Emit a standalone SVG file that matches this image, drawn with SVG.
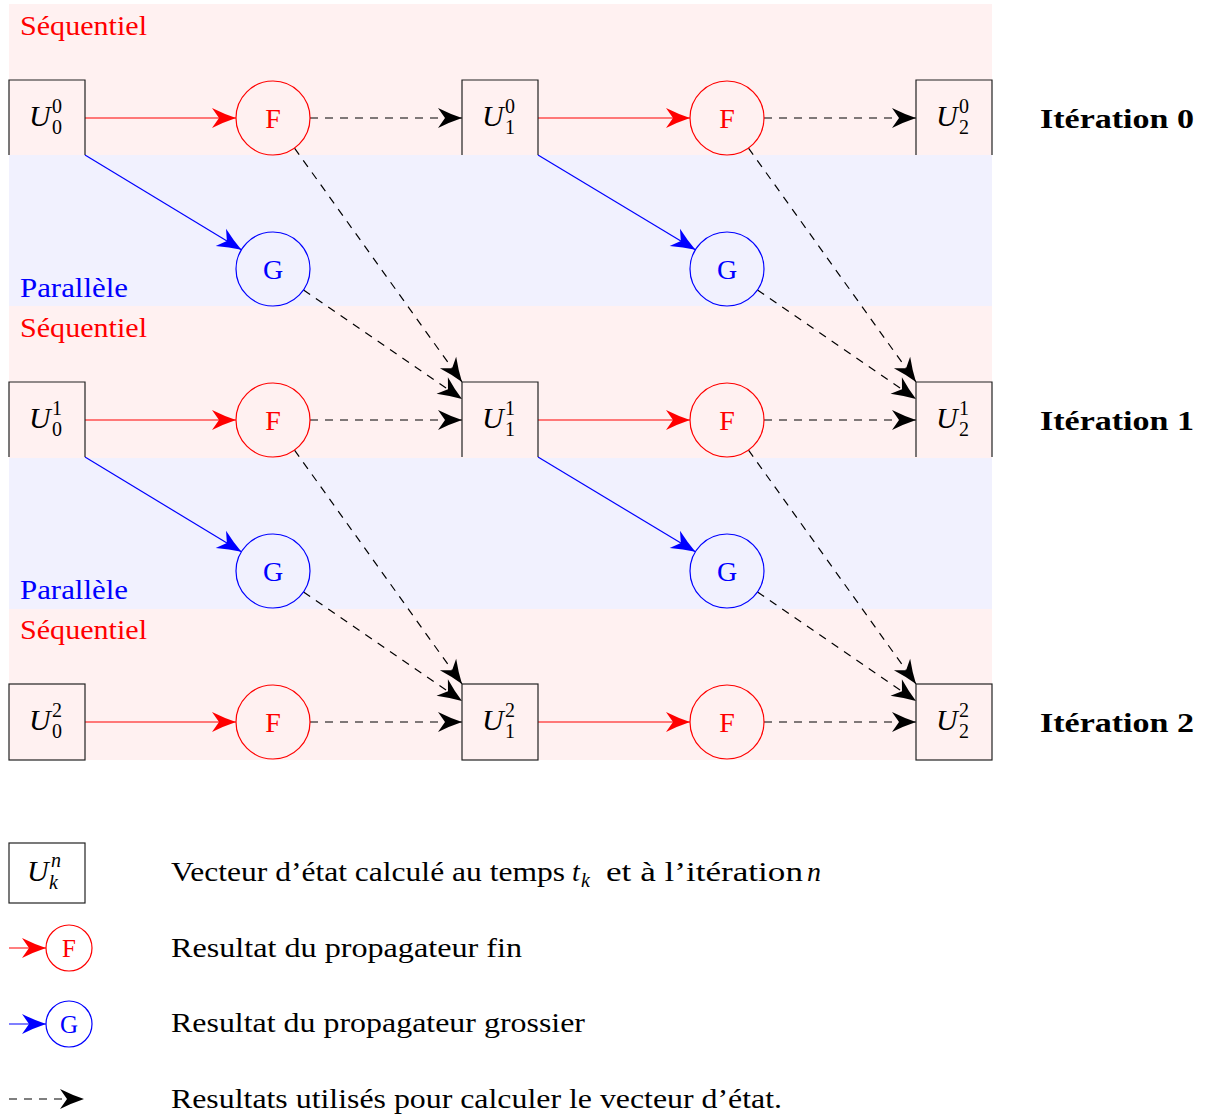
<svg xmlns="http://www.w3.org/2000/svg" width="1209" height="1116" viewBox="0 0 1209 1116">
<style>
text{font-family:"Liberation Serif","DejaVu Serif",serif;}
.band-s{fill:#fff1f1;}
.band-p{fill:#f1f1fe;}
.lbl-s{fill:#ff0000;font-size:28px;}
.lbl-p{fill:#0000ff;font-size:28px;}
.iter{font-size:28px;font-weight:bold;fill:#000;}
.box{fill:none;stroke:#222;stroke-width:1.2;}
.cf{fill:none;stroke:#ff0000;stroke-width:1.2;}
.cg{fill:none;stroke:#0000ff;stroke-width:1.2;}
.tf{fill:#ff0000;font-size:28px;text-anchor:middle;}
.tg{fill:#0000ff;font-size:28px;text-anchor:middle;}
.U{font-size:30px;font-style:italic;fill:#000;}
.sc{font-size:20px;fill:#000;}
.red{stroke:#ff0000;stroke-width:1.2;fill:none;marker-end:url(#ar);}
.blue{stroke:#0000ff;stroke-width:1.2;fill:none;marker-end:url(#ab);}
.dash{stroke:#000;stroke-width:1.2;fill:none;stroke-dasharray:8 7;marker-end:url(#ak);}
.leg{font-size:28px;fill:#000;}
</style>
<defs>
<marker id="ar" markerUnits="userSpaceOnUse" viewBox="-26 -11 28 22" refX="0" refY="0" markerWidth="28" markerHeight="22" orient="auto"><path d="M0,0 Q-12,-4 -24,-10 L-17,0 L-24,10 Q-12,4 0,0 Z" fill="#ff0000"/></marker>
<marker id="ab" markerUnits="userSpaceOnUse" viewBox="-26 -11 28 22" refX="0" refY="0" markerWidth="28" markerHeight="22" orient="auto"><path d="M0,0 Q-12,-4 -24,-10 L-17,0 L-24,10 Q-12,4 0,0 Z" fill="#0000ff"/></marker>
<marker id="ak" markerUnits="userSpaceOnUse" viewBox="-26 -11 28 22" refX="0" refY="0" markerWidth="28" markerHeight="22" orient="auto"><path d="M0,0 Q-12,-4 -24,-10 L-17,0 L-24,10 Q-12,4 0,0 Z" fill="#000"/></marker>
</defs>

<g id="bands">
<rect class="band-s" x="9" y="4" width="983" height="151"/>
<rect class="band-p" x="9" y="155" width="983" height="151"/>
<rect class="band-s" x="9" y="306" width="983" height="152"/>
<rect class="band-p" x="9" y="458" width="983" height="151"/>
<rect class="band-s" x="9" y="609" width="983" height="151"/>
</g>

<g id="band-labels">
<text class="lbl-s" x="20" y="35" textLength="127" lengthAdjust="spacingAndGlyphs">Séquentiel</text>
<text class="lbl-p" x="20" y="297" textLength="108" lengthAdjust="spacingAndGlyphs">Parallèle</text>
<text class="lbl-s" x="20" y="337" textLength="127" lengthAdjust="spacingAndGlyphs">Séquentiel</text>
<text class="lbl-p" x="20" y="599" textLength="108" lengthAdjust="spacingAndGlyphs">Parallèle</text>
<text class="lbl-s" x="20" y="639" textLength="127" lengthAdjust="spacingAndGlyphs">Séquentiel</text>
</g>

<g id="connectors">
<path class="red" d="M85,118 L236,118"/>
<path class="dash" d="M310,118 L462,118"/>
<path class="red" d="M538,118 L690,118"/>
<path class="dash" d="M764,118 L916,118"/>
<path class="blue" d="M85,155 L241.4,249.8"/>
<path class="blue" d="M538,155 L695.4,249.8"/>
<path class="dash" d="M294.5,148.1 L462,382"/>
<path class="dash" d="M303.5,290 L462,399"/>
<path class="dash" d="M748.5,148.1 L916,382"/>
<path class="dash" d="M757.5,290 L916,399"/>
<path class="red" d="M85,420 L236,420"/>
<path class="dash" d="M310,420 L462,420"/>
<path class="red" d="M538,420 L690,420"/>
<path class="dash" d="M764,420 L916,420"/>
<path class="blue" d="M85,457 L241.4,551.8"/>
<path class="blue" d="M538,457 L695.4,551.8"/>
<path class="dash" d="M294.5,450.1 L462,684"/>
<path class="dash" d="M303.5,592 L462,701"/>
<path class="dash" d="M748.5,450.1 L916,684"/>
<path class="dash" d="M757.5,592 L916,701"/>
<path class="red" d="M85,722 L236,722"/>
<path class="dash" d="M310,722 L462,722"/>
<path class="red" d="M538,722 L690,722"/>
<path class="dash" d="M764,722 L916,722"/>
</g>

<g id="U00"><path class="box" d="M9,155 L9,80 L85,80 L85,155"/><text class="U" x="29" y="126">U</text><text class="sc" x="52" y="113">0</text><text class="sc" x="52" y="134">0</text></g>
<g id="U10"><path class="box" d="M462,155 L462,80 L538,80 L538,155"/><text class="U" x="482" y="126">U</text><text class="sc" x="505" y="113">0</text><text class="sc" x="505" y="134">1</text></g>
<g id="U20"><path class="box" d="M916,155 L916,80 L992,80 L992,155"/><text class="U" x="936" y="126">U</text><text class="sc" x="959" y="113">0</text><text class="sc" x="959" y="134">2</text></g>

<g id="U01"><path class="box" d="M9,457 L9,382 L85,382 L85,457"/><text class="U" x="29" y="428">U</text><text class="sc" x="52" y="415">1</text><text class="sc" x="52" y="436">0</text></g>
<g id="U11"><path class="box" d="M462,457 L462,382 L538,382 L538,457"/><text class="U" x="482" y="428">U</text><text class="sc" x="505" y="415">1</text><text class="sc" x="505" y="436">1</text></g>
<g id="U21"><path class="box" d="M916,457 L916,382 L992,382 L992,457"/><text class="U" x="936" y="428">U</text><text class="sc" x="959" y="415">1</text><text class="sc" x="959" y="436">2</text></g>

<g id="U02"><rect class="box" x="9" y="684" width="76" height="76"/><text class="U" x="29" y="730">U</text><text class="sc" x="52" y="717">2</text><text class="sc" x="52" y="738">0</text></g>
<g id="U12"><rect class="box" x="462" y="684" width="76" height="76"/><text class="U" x="482" y="730">U</text><text class="sc" x="505" y="717">2</text><text class="sc" x="505" y="738">1</text></g>
<g id="U22"><rect class="box" x="916" y="684" width="76" height="76"/><text class="U" x="936" y="730">U</text><text class="sc" x="959" y="717">2</text><text class="sc" x="959" y="738">2</text></g>

<g id="F00"><circle class="cf" cx="273" cy="118" r="37"/><text class="tf" x="273" y="128">F</text></g>
<g id="F10"><circle class="cf" cx="727" cy="118" r="37"/><text class="tf" x="727" y="128">F</text></g>
<g id="F01"><circle class="cf" cx="273" cy="420" r="37"/><text class="tf" x="273" y="430">F</text></g>
<g id="F11"><circle class="cf" cx="727" cy="420" r="37"/><text class="tf" x="727" y="430">F</text></g>
<g id="F02"><circle class="cf" cx="273" cy="722" r="37"/><text class="tf" x="273" y="732">F</text></g>
<g id="F12"><circle class="cf" cx="727" cy="722" r="37"/><text class="tf" x="727" y="732">F</text></g>

<g id="G00"><circle class="cg" cx="273" cy="269" r="37"/><text class="tg" x="273" y="279">G</text></g>
<g id="G10"><circle class="cg" cx="727" cy="269" r="37"/><text class="tg" x="727" y="279">G</text></g>
<g id="G01"><circle class="cg" cx="273" cy="571" r="37"/><text class="tg" x="273" y="581">G</text></g>
<g id="G11"><circle class="cg" cx="727" cy="571" r="37"/><text class="tg" x="727" y="581">G</text></g>

<g id="iter-labels">
<text class="iter" x="1040" y="128" textLength="154" lengthAdjust="spacingAndGlyphs">Itération 0</text>
<text class="iter" x="1040" y="430" textLength="154" lengthAdjust="spacingAndGlyphs">Itération 1</text>
<text class="iter" x="1040" y="732" textLength="154" lengthAdjust="spacingAndGlyphs">Itération 2</text>
</g>

<g id="legend-box"><rect class="box" x="9" y="843" width="76" height="60"/><text class="U" x="27" y="881">U</text><text class="sc" x="51" y="867" font-style="italic">n</text><text class="sc" x="49" y="889" font-style="italic">k</text></g>
<g id="legend-F"><path class="red" d="M9,948 L46,948"/><circle class="cf" cx="69" cy="948" r="23"/><text class="tf" x="69" y="957" style="font-size:25px">F</text></g>
<g id="legend-G"><path class="blue" d="M9,1024 L46,1024"/><circle class="cg" cx="69" cy="1024" r="23"/><text class="tg" x="69" y="1033" style="font-size:25px">G</text></g>
<g id="legend-dash"><path class="dash" d="M9,1099 L84,1099"/></g>

<g id="legend-text">
<text class="leg" x="171" y="881" textLength="394" lengthAdjust="spacingAndGlyphs">Vecteur d’état calculé au temps</text>
<text class="leg" x="572" y="881" font-style="italic">t</text>
<text class="sc" x="581" y="887" font-style="italic">k</text>
<text class="leg" x="606" y="881" textLength="197" lengthAdjust="spacingAndGlyphs">et à l’itération</text>
<text class="leg" x="807" y="881" font-style="italic">n</text>
<text class="leg" x="171" y="957" textLength="351" lengthAdjust="spacingAndGlyphs">Resultat du propagateur fin</text>
<text class="leg" x="171" y="1032" textLength="414" lengthAdjust="spacingAndGlyphs">Resultat du propagateur grossier</text>
<text class="leg" x="171" y="1108" textLength="611" lengthAdjust="spacingAndGlyphs">Resultats utilisés pour calculer le vecteur d’état.</text>
</g>
</svg>
